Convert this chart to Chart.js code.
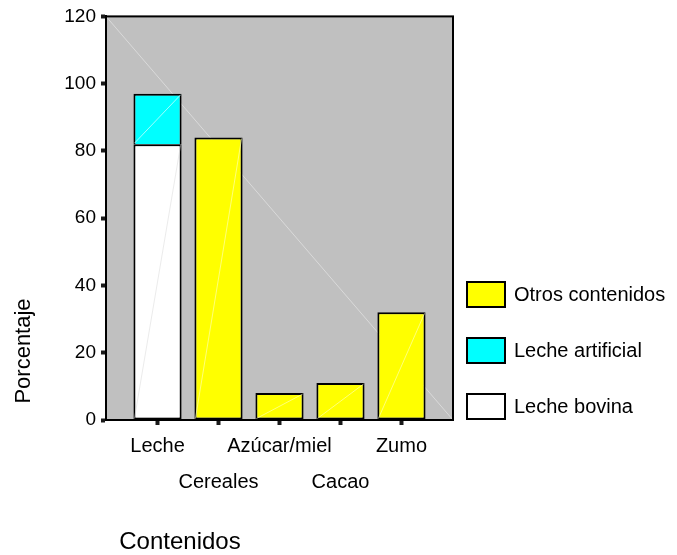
<!DOCTYPE html>
<html>
<head>
<meta charset="utf-8">
<script src="https://cdn.jsdelivr.net/npm/chart.js@4.4.1/dist/chart.umd.min.js"></script>
<style>
  html, body { margin: 0; padding: 0; background: #ffffff; }
  #wrap { width: 677px; height: 555px; position: relative; }
</style>
</head>
<body>
<div id="wrap"><canvas id="c" width="677" height="555"></canvas></div>
<script>
// ---- data ----
const categories = ['Leche', 'Cereales', 'Azúcar/miel', 'Cacao', 'Zumo'];
const lecheBovina = [82, null, null, null, null];
const lecheArtificial = [15, null, null, null, null];
const otrosContenidos = [null, 84, 8, 11, 32];
const seriesNames = ['Leche bovina', 'Leche artificial', 'Otros contenidos'];
const seriesColors = ['#ffffff', '#00ffff', '#ffff00'];
const yTicks = [0, 20, 40, 60, 80, 100, 120];
const yTitle = 'Porcentaje';
const xTitle = 'Contenidos';

const FONT = '"Liberation Sans", Arial, sans-serif';

function toPoints(arr) {
  return arr.map((v, i) => ({ x: i, y: v })).filter(p => p.y !== null);
}

const allSeries = [lecheBovina, lecheArtificial, otrosContenidos];
const datasets = allSeries.map((arr, k) => ({
  label: seriesNames[k],
  data: toPoints(arr),
  backgroundColor: seriesColors[k],
  borderColor: '#000000',
  borderWidth: 2,
  borderSkipped: k === 1 ? 'bottom' : false,
  barPercentage: 0.79,
  categoryPercentage: 1.0
}));

const decorPlugin = {
  id: 'decor',
  beforeDatasetsDraw(chart) {
    const { ctx, chartArea: a } = chart;
    ctx.save();
    ctx.fillStyle = '#c0c0c0';
    ctx.fillRect(a.left, a.top, a.right - a.left, a.bottom - a.top);
    ctx.strokeStyle = '#dadada';
    ctx.lineWidth = 1;
    ctx.beginPath();
    ctx.moveTo(a.left, a.top);
    ctx.lineTo(a.right, a.bottom);
    ctx.stroke();
    ctx.restore();
  },
  afterDatasetsDraw(chart) {
    const { ctx, chartArea: a } = chart;
    ctx.save();
    chart.data.datasets.forEach((ds, di) => {
      const meta = chart.getDatasetMeta(di);
      meta.data.forEach(bar => {
        const w = bar.width;
        ctx.strokeStyle = di === 2 ? 'rgba(255,255,200,0.6)' : (di === 1 ? 'rgba(200,255,255,0.8)' : 'rgba(215,215,215,0.5)');
        ctx.lineWidth = 1;
        ctx.beginPath();
        ctx.moveTo(bar.x - w / 2 + 1, bar.base - 1);
        ctx.lineTo(bar.x + w / 2 - 1, bar.y + 1);
        ctx.stroke();
      });
    });
    ctx.strokeStyle = '#000000';
    ctx.lineWidth = 2;
    ctx.strokeRect(a.left, a.top, a.right - a.left, a.bottom - a.top);
    ctx.restore();
  },
  afterDraw(chart) {
    const { ctx } = chart;
    ctx.save();
    ctx.fillStyle = '#000000';
    ctx.textAlign = 'center';
    ctx.textBaseline = 'middle';
    ctx.font = '22px ' + FONT;
    ctx.save();
    ctx.translate(24, 351);
    ctx.rotate(-Math.PI / 2);
    ctx.fillText(yTitle, 0, 0);
    ctx.restore();
    ctx.font = '24px ' + FONT;
    ctx.fillText(xTitle, 180, 542);
    ctx.font = '20px ' + FONT;
    ctx.textAlign = 'left';
    const order = [2, 1, 0];
    order.forEach((k, i) => {
      const top = 282 + i * 56;
      ctx.fillStyle = seriesColors[k];
      ctx.fillRect(467, top, 38, 25);
      ctx.strokeStyle = '#000000';
      ctx.lineWidth = 2;
      ctx.strokeRect(467, top, 38, 25);
      ctx.fillStyle = '#000000';
      ctx.fillText(seriesNames[k], 514, top + 13);
    });
    ctx.restore();
  }
};

new Chart(document.getElementById('c'), {
  type: 'bar',
  data: { datasets },
  plugins: [decorPlugin],
  options: {
    responsive: false,
    animation: false,
    devicePixelRatio: 1,
    layout: { padding: { top: 14, right: 224, left: 0, bottom: 0 } },
    plugins: { legend: { display: false }, tooltip: { enabled: false } },
    scales: {
      x: {
        type: 'linear',
        stacked: true,
        offset: false,
        min: -0.845,
        max: 4.845,
        afterBuildTicks(scale) {
          scale.ticks = categories.map((_, i) => ({ value: i }));
        },
        afterFit(scale) { scale.height = 135; },
        grid: { display: true, offset: false, drawOnChartArea: false, drawTicks: true, tickLength: 5, tickWidth: 4, tickColor: '#1a1a1a' },
        border: { display: true, color: '#000000', width: 2 },
        ticks: {
          autoSkip: false,
          maxRotation: 0,
          minRotation: 0,
          padding: 3,
          color: '#000000',
          font: { family: FONT, size: 20, lineHeight: 1.8 },
          callback(v) {
            const i = Math.round(v);
            return i % 2 === 0 ? [categories[i]] : ['', categories[i]];
          }
        }
      },
      y: {
        stacked: true,
        min: 0,
        max: 120,
        afterBuildTicks(scale) {
          scale.ticks = yTicks.map(v => ({ value: v }));
        },
        afterFit(scale) { scale.width = 106; },
        grid: { display: true, drawOnChartArea: false, drawTicks: true, tickLength: 5, tickWidth: 4, tickColor: '#1a1a1a' },
        border: { display: true, color: '#000000', width: 2 },
        ticks: {
          padding: 5,
          color: '#000000',
          font: { family: FONT, size: 19 }
        }
      }
    }
  }
});
</script>
</body>
</html>
